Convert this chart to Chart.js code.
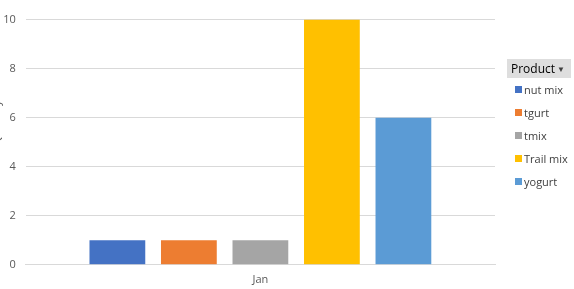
<!DOCTYPE html>
<html><head><meta charset="utf-8">
<script src="https://cdn.jsdelivr.net/npm/chart.js@4"></script>
<style>
html,body{margin:0;padding:0;background:#fff;overflow:hidden;}
#wrap{position:absolute;left:-10px;top:3px;width:584px;height:293px;}
#legend{position:absolute;left:507px;top:59px;font-family:"Open Sans","Noto Sans",sans-serif;}
#lh{width:64px;height:19px;background:#dedede;font-size:12px;line-height:19px;color:#000;padding-left:4px;box-sizing:border-box;position:relative;}
#lh span.arr{position:absolute;right:6px;top:0;font-size:8px;color:#404040;}
.it{position:relative;height:23px;font-size:11px;color:#404040;line-height:23px;padding-left:17px;}
.sw{position:absolute;left:8px;top:8px;width:7px;height:7px;}
</style></head><body>
<div id="wrap"><canvas id="c" width="584" height="293"></canvas></div>
<div id="legend"><div id="lh">Product<span class="arr">&#9660;</span></div><div id="items"></div></div>
<script>
const categories = ["Jan"];
const products = ["nut mix","tgurt","tmix","Trail mix","yogurt"];
const values = [1,1,1,10,6];
const colors = ["#4472C4","#ED7D31","#A5A5A5","#FFC000","#5B9BD5"];
const yTicks = [0,2,4,6,8,10];

const items = document.getElementById('items');
products.forEach((p,i)=>{
  const d=document.createElement('div');d.className='it';
  const s=document.createElement('span');s.className='sw';s.style.background=colors[i];
  d.appendChild(s);d.appendChild(document.createTextNode(p));items.appendChild(d);
});

const fontFam='"Open Sans","Noto Sans",sans-serif';
new Chart(document.getElementById('c'),{
  type:'bar',
  data:{labels:categories,datasets:products.map((p,i)=>({label:p,data:[values[i]],backgroundColor:colors[i],categoryPercentage:0.762,barPercentage:0.78}))},
  options:{
    responsive:false,animation:false,
    layout:{padding:{top:16,right:79,left:0,bottom:2}},
    plugins:{legend:{display:false},tooltip:{enabled:false}},
    scales:{
      x:{grid:{display:false,drawTicks:false},border:{color:'#d9d9d9',width:1},
         ticks:{color:'#595959',font:{family:fontFam,size:11},padding:8}},
      y:{min:0,max:10,afterBuildTicks:(ax)=>{ax.ticks=yTicks.map(v=>({value:v}));},
         grid:{color:'#d9d9d9',drawTicks:false},border:{display:false},
         title:{display:true,text:'Sum of Quantity',color:'#595959',font:{family:fontFam,size:11},padding:{top:0,bottom:-10}},
         ticks:{color:'#595959',font:{family:fontFam,size:11},padding:10}}
    }
  }
});
</script></body></html>
